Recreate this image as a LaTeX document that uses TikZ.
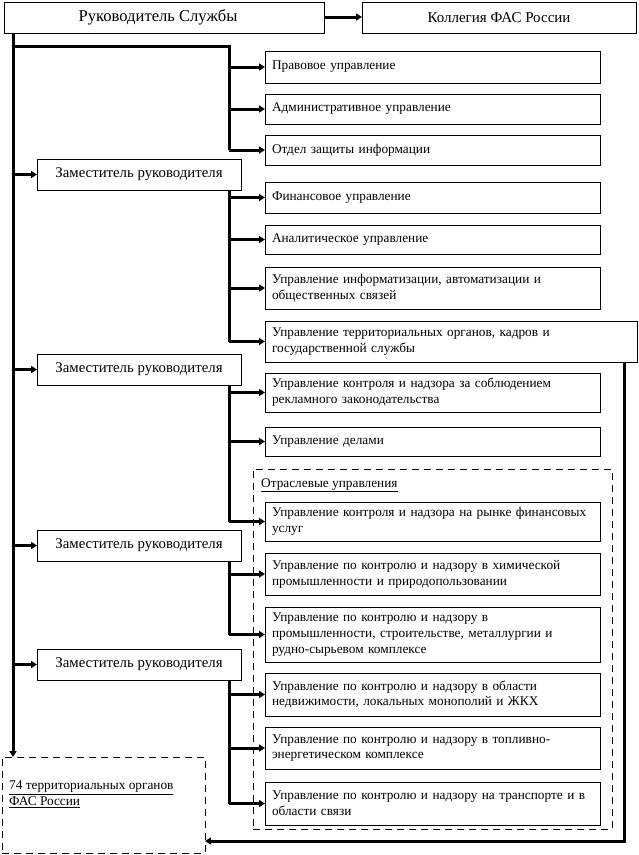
\documentclass[tikz,border=0pt]{standalone}
\usepackage{fontspec}
\setmainfont{Liberation Serif}
\usetikzlibrary{arrows.meta}
\newcommand\boxfnt{\fontsize{13.3}{15.8}\selectfont}
\newcommand\depfnt{\fontsize{14.8}{17}\selectfont}
\newcommand\topfnt{\fontsize{16.6}{18}\selectfont}
\newcommand\kolfnt{\fontsize{15}{18}\selectfont}
\begin{document}
\begin{tikzpicture}[x=1pt,y=-1pt,
  rb/.style={draw, line width=0.9pt, anchor=north west, inner xsep=7pt, inner ysep=0pt,
    outer sep=0pt, align=left, text width=321pt, font=\boxfnt},
  db/.style={draw, line width=0.9pt, anchor=north west, inner sep=0pt, outer sep=0pt,
    minimum width=204pt, minimum height=31pt, align=center, font=\depfnt},
  tb/.style={draw, line width=0.9pt, anchor=north west, inner sep=0pt, outer sep=0pt,
    minimum height=31pt, align=center, font=\topfnt},
  dsh/.style={draw, line width=0.9pt, dash pattern=on 7pt off 5pt, anchor=north west,
    inner sep=0pt, outer sep=0pt},
  ln/.style={line width=3pt},
  arr/.style={line width=3pt, -{Triangle[length=6pt,width=7pt]}}]
\useasboundingbox (0,0) rectangle (638,855);

% top boxes
\node[tb, minimum width=320pt] (ruk) at (4,2) {Руководитель Службы\hspace*{12pt}};
\node[tb, minimum width=274pt, font=\kolfnt] (kol) at (362,2) {Коллегия ФАС России};

% dashed group and territorial bodies
\node[dsh, minimum width=359pt, minimum height=360pt] (grp) at (253,469) {};
\node[anchor=north west, inner sep=0pt, font=\boxfnt] (grpt) at (261,478) {\underline{Отраслевые управления}};
\node[dsh, minimum width=203pt, minimum height=96pt] (b74) at (2,757) {};
\node[anchor=north west, inner sep=0pt, align=left, font=\boxfnt] (t74) at (9,781)
  {\underline{74 территориальных органов}\\\underline{ФАС России}};

% right boxes
\node[rb, minimum height=32pt] (pr) at (265,51) {Правовое управление};
\node[rb, minimum height=30pt] (adm) at (265,94) {Административное управление};
\node[rb, minimum height=30pt] (ozi) at (265,135) {Отдел защиты информации};
\node[rb, minimum height=31pt] (fin) at (265,182) {Финансовое управление};
\node[rb, minimum height=29pt] (anl) at (265,225) {Аналитическое управление};
\node[rb, minimum height=42pt] (inf) at (265,267) {Управление информатизации, автоматизации и\\общественных связей};
\node[rb, minimum height=41pt, text width=358pt] (ter) at (265,321) {Управление территориальных органов, кадров и\\государственной службы};
\node[rb, minimum height=39pt] (rek) at (265,373) {Управление контроля и надзора за соблюдением\\рекламного законодательства};
\node[rb, minimum height=29pt] (del) at (265,427) {Управление делами};
\node[rb, minimum height=39pt] (fnu) at (265,502) {Управление контроля и надзора на рынке финансовых\\услуг};
\node[rb, minimum height=42pt] (him) at (265,553) {Управление по контролю и надзору в химической\\промышленности и природопользовании};
\node[rb, minimum height=55pt] (met) at (265,607) {Управление по контролю и надзору в\\промышленности, строительстве, металлургии и\\рудно-сырьевом комплексе};
\node[rb, minimum height=43pt] (ned) at (265,673) {Управление по контролю и надзору в области\\недвижимости, локальных монополий и ЖКХ};
\node[rb, minimum height=42pt] (tek) at (265,727) {Управление по контролю и надзору в топливно-\\энергетическом комплексе};
\node[rb, minimum height=43pt] (trn) at (265,782) {Управление по контролю и надзору на транспорте и в\\области связи};

% deputies
\node[db] (d1) at (37,159) {Заместитель руководителя};
\node[db] (d2) at (37,354) {Заместитель руководителя};
\node[db] (d3) at (37,530) {Заместитель руководителя};
\node[db] (d4) at (37,649) {Заместитель руководителя};

% helper coordinates
\coordinate (mt) at (13,33);
\coordinate (h0) at (13,46);
\coordinate (c0) at (229,46);
\coordinate (cx) at (229,0);
\coordinate (rc) at (624,841);

% connectors
\draw[arr] (ruk.east |- 0,17) -- (kol.west |- 0,17);
\draw[arr] (mt) -- (mt |- b74.north);
\draw[ln] (h0) -- (c0) -- (c0 |- ozi.west);
\foreach \n in {pr,adm,ozi} \draw[arr] (c0 |- \n.west) -- (\n.west);
\foreach \n in {d1,d2,d3,d4} \draw[arr] (mt |- \n.west) -- (\n.west);
\draw[ln] (d1.south -| cx) -- (cx |- ter.west);
\foreach \n in {fin,anl,inf,ter} \draw[arr] (cx |- \n.west) -- (\n.west);
\draw[ln] (d2.south -| cx) -- (cx |- fnu.west);
\foreach \n in {rek,del,fnu} \draw[arr] (cx |- \n.west) -- (\n.west);
\draw[ln] (d3.south -| cx) -- (cx |- met.west);
\foreach \n in {him,met} \draw[arr] (cx |- \n.west) -- (\n.west);
\draw[ln] (d4.south -| cx) -- (cx |- trn.west);
\foreach \n in {ned,tek,trn} \draw[arr] (cx |- \n.west) -- (\n.west);
\draw[arr] (ter.south -| rc) -- (rc) -- (rc -| b74.east);
\end{tikzpicture}
\end{document}
